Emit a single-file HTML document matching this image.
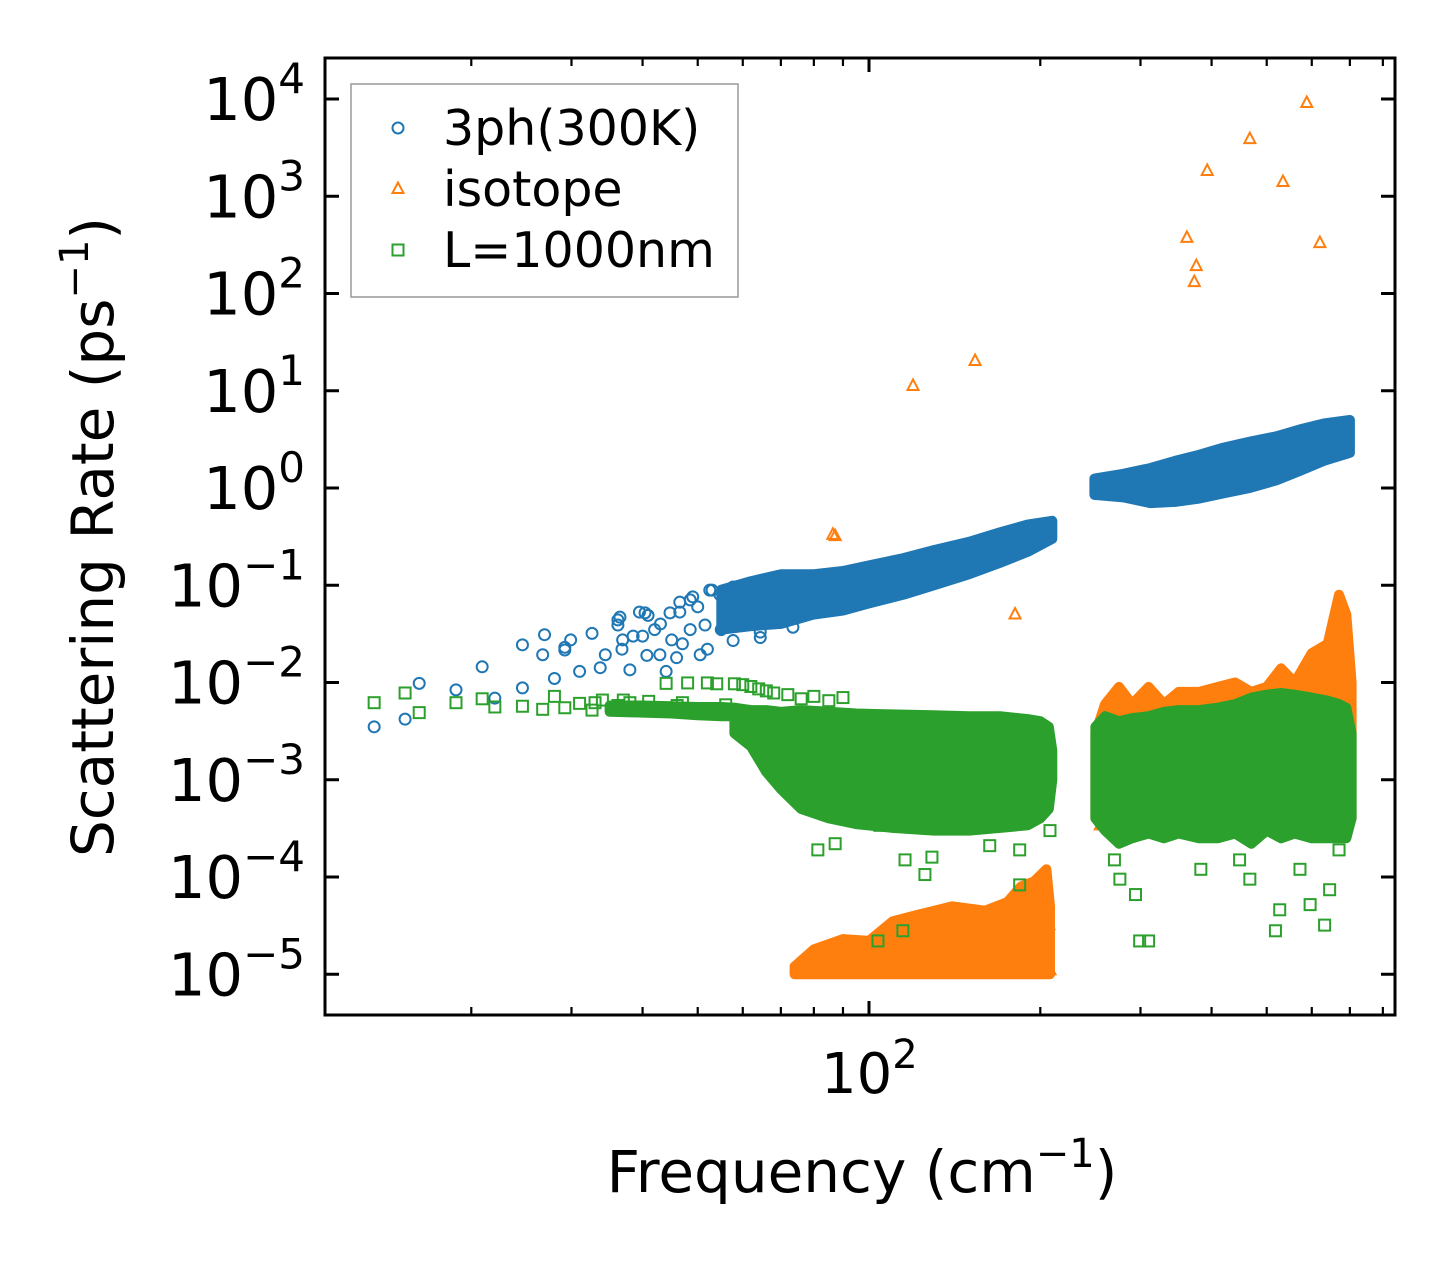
<!DOCTYPE html>
<html><head><meta charset="utf-8"><style>
html,body{margin:0;padding:0;background:#fff;}
svg{display:block;font-family:"DejaVu Sans","Liberation Sans",sans-serif;}
</style></head><body>
<svg id="chart" width="1455" height="1265" viewBox="0 0 1455 1265" xmlns="http://www.w3.org/2000/svg">
<rect width="1455" height="1265" fill="#fff"/>
<g id="plot"></g>
<g id="axes"></g>
</svg>
<script>
// ---- data (frequency cm^-1, rate ps^-1) ----
const blueBand1Freq=[55,62,70,80,90,100,115,130,150,170,190,210];
const blueBand1Hi=[0.09,0.11,0.13,0.13,0.14,0.16,0.19,0.23,0.28,0.35,0.42,0.46];
const blueBand1Lo=[0.035,0.038,0.04,0.05,0.055,0.065,0.08,0.1,0.13,0.17,0.22,0.3];
const blueBand2Freq=[249,280,312,345,381,420,467,520,572,630,700];
const blueBand2Hi=[1.25,1.4,1.6,1.9,2.2,2.6,3.0,3.4,4.0,4.6,5.0];
const blueBand2Lo=[0.85,0.8,0.7,0.72,0.78,0.88,1.0,1.2,1.5,1.9,2.3];
const bluePoints=[[13.5,0.0035],[15.3,0.0042],[16.2,0.0098],[18.8,0.0084],[20.9,0.0145],[22,0.0069],[24.6,0.0244],[24.6,0.0088],[26.9,0.031],[26.7,0.0193],[29.2,0.0216],[29.9,0.0274],[32.6,0.032],[33.7,0.0142],[34.4,0.0193],[36.2,0.044],[36.9,0.0274],[38,0.0135],[39.5,0.053],[40.9,0.049],[42,0.035],[42.9,0.0193],[45,0.0274],[46.5,0.053],[48.5,0.0707],[50.5,0.0193],[51.5,0.039],[52.5,0.089],[54.7,0.08],[57,0.044],[60.5,0.0707],[64.4,0.033],[67,0.113],[48.5,0.035],[36.2,0.039],[31,0.013],[28,0.011],[44,0.013],[47,0.025],[40,0.03],[58,0.06],[62,0.05],[29.2,0.023],[36.5,0.047],[36.8,0.022],[40.4,0.052],[40.7,0.019],[44.7,0.052],[46.5,0.067],[49,0.076],[53,0.089],[45.9,0.018],[52,0.022],[57.7,0.096],[64.4,0.029],[73.5,0.037],[82,0.056],[57.7,0.027],[55,0.035],[60,0.04],[68,0.045],[50,0.06],[43,0.04],[38.5,0.03]];
const orangeBand1Freq=[74,80,90,100,110,120,140,160,175,185,195,205,208];
const orangeBand1Hi=[1.2e-5,1.8e-5,2.3e-5,2.2e-5,3.5e-5,4e-5,5e-5,4.5e-5,5.5e-5,8e-5,9e-5,1.2e-4,5e-5];
const orangeBand1Lo=[1e-5,1e-5,1e-5,1e-5,1e-5,1e-5,1e-5,1e-5,1e-5,1e-5,1e-5,1e-5,1e-5];
const orangeBand2Freq=[250,260,275,290,310,330,350,380,410,440,470,500,530,560,600,640,670,690,705];
const orangeBand2Hi=[0.003,0.006,0.009,0.006,0.009,0.006,0.008,0.008,0.009,0.01,0.008,0.009,0.014,0.01,0.02,0.025,0.08,0.05,0.01];
const orangeBand2Lo=[0.0004,0.0004,0.0004,0.0004,0.0004,0.0004,0.0004,0.0004,0.0004,0.0004,0.0004,0.0004,0.0004,0.0004,0.0004,0.0004,0.0004,0.0004,0.0004];
const orangePoints=[[119.5,11.2],[153.6,20.2],[86.4,0.33],[87.2,0.32],[180.6,0.05],[362,373],[376,191],[373,131],[393,1820],[467,3870],[534,1400],[588,9100],[620,330],[255,3.4e-4],[692,8.8e-4],[208,1.1e-5],[207,3.2e-5],[133,1.8e-5]];
const greenBand0Freq=[35,40,45,50,55,58];
const greenBand0Hi=[0.0058,0.0058,0.0057,0.0056,0.0056,0.0055];
const greenBand0Lo=[0.005,0.0049,0.0048,0.0046,0.0045,0.0045];
const greenBand1Freq=[58,62,66,70,76,85,95,110,130,150,170,190,200,207,210];
const greenBand1Hi=[0.0055,0.0052,0.0052,0.005,0.0052,0.005,0.0048,0.0047,0.0046,0.0045,0.0045,0.0042,0.004,0.0035,0.002];
const greenBand1Lo=[0.003,0.0022,0.0012,0.0008,0.0005,0.0004,0.00035,0.00032,0.0003,0.0003,0.00032,0.00034,0.0004,0.0005,0.001];
const greenBand2Freq=[250,260,275,290,310,330,350,380,410,440,470,500,530,560,600,640,670,690,705];
const greenBand2Hi=[0.0035,0.0045,0.004,0.0043,0.0045,0.005,0.0052,0.0052,0.0055,0.006,0.007,0.0075,0.0078,0.0075,0.007,0.0065,0.006,0.0055,0.003];
const greenBand2Lo=[0.0004,0.0003,0.00022,0.00025,0.00028,0.00025,0.00028,0.00025,0.00025,0.00028,0.00022,0.0003,0.00025,0.00028,0.00025,0.00025,0.00025,0.00025,0.0004];
const greenPoints=[[13.5,0.0062],[15.3,0.0078],[16.2,0.0049],[18.8,0.0062],[20.9,0.0068],[22,0.0056],[24.6,0.0057],[26.7,0.0053],[28,0.0072],[29.2,0.0055],[31,0.0061],[32.6,0.0052],[34,0.0066],[36.2,0.0058],[38,0.0062],[40,0.0055],[42,0.0053],[44,0.0098],[46,0.0058],[48,0.0099],[50,0.0051],[52,0.0099],[54,0.0097],[56,0.0059],[58,0.0097],[60,0.0095],[62,0.0091],[64,0.0086],[66,0.0082],[68,0.0078],[72,0.0075],[76,0.0068],[80,0.0072],[85,0.0065],[90,0.007],[33,0.0062],[37,0.0066],[41,0.0064],[47,0.0062],[81.3,1.9e-4],[87.2,2.2e-4],[104.5,3.4e-4],[115.7,1.5e-4],[125.4,1.06e-4],[129,1.6e-4],[163,2.1e-4],[184,1.9e-4],[103.7,2.2e-5],[114.7,2.8e-5],[184,8.3e-5],[208,3e-4],[276,9.5e-5],[294,6.6e-5],[299,2.2e-5],[310,2.2e-5],[383,1.2e-4],[467,9.5e-5],[518,2.8e-5],[527,4.6e-5],[596,5.2e-5],[632,3.2e-5],[645,7.4e-5],[572,1.2e-4],[270,1.5e-4],[448,1.5e-4],[670,1.9e-4]];
const yTickExps=[-5,-4,-3,-2,-1,0,1,2,3,4];
const xMinorTicks=[20,30,40,50,60,70,80,90,200,300,400,500,600,700,800];

// ---- axes ----
const L=325,R=1395,T=58,B=1015;
function xs(f){return 869+569*Math.log10(f/100);}
function ys(v){return 488-97.25*Math.log10(v);}
const NS='http://www.w3.org/2000/svg';
const plot=document.getElementById('plot'), axes=document.getElementById('axes');
function mk(tag,attrs,parent){const e=document.createElementNS(NS,tag);for(const k in attrs)e.setAttribute(k,attrs[k]);parent.appendChild(e);return e;}
const C={b:'#1f77b4',o:'#ff7f0e',g:'#2ca02c'};

function band(freq,hi,lo,color,name){
  let pts=[];
  for(let i=0;i<freq.length;i++)pts.push(xs(freq[i]).toFixed(1)+','+ys(hi[i]).toFixed(1));
  for(let i=freq.length-1;i>=0;i--)pts.push(xs(freq[i]).toFixed(1)+','+ys(lo[i]).toFixed(1));
  const p=mk('polygon',{points:pts.join(' '),fill:color,stroke:color,'stroke-width':10,'stroke-linejoin':'round'},plot);
  
  
}
function marker(kind,x,y,color,parent){
  let e;
  if(kind==='c') e=mk('circle',{cx:x,cy:y,r:5.5,fill:'none',stroke:color,'stroke-width':2},parent);
  else if(kind==='t') e=mk('polygon',{points:`${x},${y-6.5} ${x-5.5},${y+4} ${x+5.5},${y+4}`,fill:'none',stroke:color,'stroke-width':2},parent);
  else e=mk('rect',{x:x-5.5,y:y-5.5,width:11,height:11,fill:'none',stroke:color,'stroke-width':2},parent);
  return e;
}
function points(arr,kind,color,name){
  const g=mk('g',{},plot);
  
  
  arr.forEach(d=>{
    const e=marker(kind,xs(d[0]),ys(d[1]),color,g);
    
    
  });
}
band(blueBand1Freq,blueBand1Hi,blueBand1Lo,C.b,'3ph-band-low');
band(blueBand2Freq,blueBand2Hi,blueBand2Lo,C.b,'3ph-band-high');
points(bluePoints,'c',C.b,'3ph-series');
band(orangeBand1Freq,orangeBand1Hi,orangeBand1Lo,C.o,'isotope-band-low');
band(orangeBand2Freq,orangeBand2Hi,orangeBand2Lo,C.o,'isotope-band-high');
points(orangePoints,'t',C.o,'isotope-series');
band(greenBand0Freq,greenBand0Hi,greenBand0Lo,C.g,'boundary-band-flat');
band(greenBand1Freq,greenBand1Hi,greenBand1Lo,C.g,'boundary-band-low');
band(greenBand2Freq,greenBand2Hi,greenBand2Lo,C.g,'boundary-band-high');
points(greenPoints,'s',C.g,'boundary-series');

const fr=mk('rect',{x:L,y:T,width:R-L,height:B-T,fill:'none',stroke:'#000','stroke-width':3},axes);


yTickExps.forEach(e=>{
  const y=ys(Math.pow(10,e));
  mk('line',{x1:L,x2:L+14,y1:y,y2:y,stroke:'#000','stroke-width':3},axes);
  mk('line',{x1:R,x2:R-14,y1:y,y2:y,stroke:'#000','stroke-width':3},axes);
  const t=mk('text',{x:305,y:y+21,'text-anchor':'end','font-size':59,fill:'#000'},axes);
  
  
  t.innerHTML='10<tspan dy="-27" font-size="42">'+(e<0?'\u2212'+(-e):e)+'</tspan>';
});
[100].forEach(f=>{
  const x=xs(f);
  mk('line',{x1:x,x2:x,y1:B,y2:B-14,stroke:'#000','stroke-width':3},axes);
  mk('line',{x1:x,x2:x,y1:T,y2:T+14,stroke:'#000','stroke-width':3},axes);
  const t=mk('text',{x:x-48,y:1093,'font-size':56,fill:'#000'},axes);
  
  
  t.innerHTML='10<tspan dy="-25" font-size="40">2</tspan>';
});
xMinorTicks.forEach(f=>{
  const x=xs(f);
  if(x<L||x>R)return;
  mk('line',{x1:x,x2:x,y1:B,y2:B-8,stroke:'#000','stroke-width':2.2},axes);
  mk('line',{x1:x,x2:x,y1:T,y2:T+8,stroke:'#000','stroke-width':2.2},axes);
});
const xt=mk('text',{x:862,y:1192,'text-anchor':'middle','font-size':58,fill:'#000'},axes);


xt.innerHTML='Frequency (cm<tspan dy="-25" font-size="40">\u22121</tspan><tspan dy="25">)</tspan>';
const yt=mk('text',{x:0,y:0,'text-anchor':'middle','font-size':58,fill:'#000',transform:'translate(113,537) rotate(-90)'},axes);


yt.innerHTML='Scattering Rate (ps<tspan dy="-25" font-size="40">\u22121</tspan><tspan dy="25">)</tspan>';
const lg=mk('g',{},axes);


mk('rect',{x:351,y:84,width:387,height:213,fill:'#fff','fill-opacity':0.8,stroke:'#999','stroke-width':1.5},lg);
[['c',C.b,'3ph(300K)',128],['t',C.o,'isotope',189],['s',C.g,'L=1000nm',250]].forEach(it=>{
  const ent=mk('g',{},lg);
  
  
  marker(it[0],398,it[3],it[1],ent);
  const t=mk('text',{x:443,y:it[3]+17,'font-size':49,fill:'#000'},ent);
  t.textContent=it[2];
});
</script>
</body></html>
